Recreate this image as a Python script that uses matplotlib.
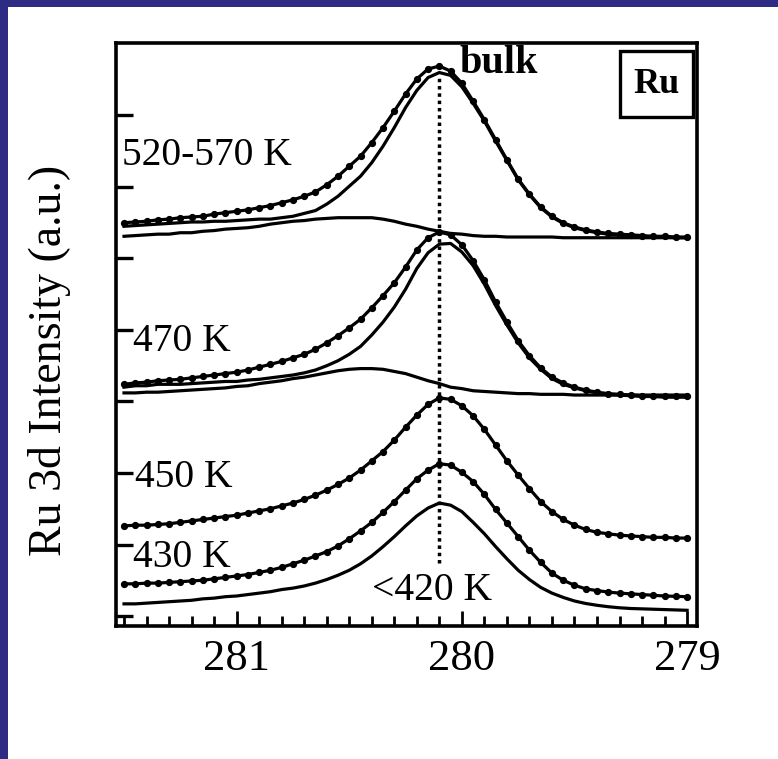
import matplotlib
matplotlib.use("Agg")
import matplotlib.pyplot as plt
from matplotlib.patches import Rectangle
from matplotlib.ticker import MultipleLocator

plt.rcParams['font.family'] = ['Liberation Serif', 'DejaVu Serif']

# Binding energy grid (eV), 0.05 eV steps
energy = [281.50, 281.45, 281.40, 281.35, 281.30, 281.25, 281.20, 281.15, 281.10, 281.05,
          281.00, 280.95, 280.90, 280.85, 280.80, 280.75, 280.70, 280.65, 280.60, 280.55,
          280.50, 280.45, 280.40, 280.35, 280.30, 280.25, 280.20, 280.15, 280.10, 280.05,
          280.00, 279.95, 279.90, 279.85, 279.80, 279.75, 279.70, 279.65, 279.60, 279.55,
          279.50, 279.45, 279.40, 279.35, 279.30, 279.25, 279.20, 279.15, 279.10, 279.05,
          279.00]

# Ru 3d spectra, offset vertically (a.u.)
ru_below_420 = [0.17, 0.17, 0.18, 0.19, 0.20, 0.21, 0.22, 0.24, 0.25, 0.27,
                0.28, 0.30, 0.32, 0.34, 0.37, 0.39, 0.42, 0.46, 0.51, 0.57,
                0.64, 0.73, 0.84, 0.97, 1.11, 1.26, 1.40, 1.51, 1.58, 1.55,
                1.46, 1.31, 1.15, 0.97, 0.80, 0.64, 0.51, 0.40, 0.32, 0.26,
                0.21, 0.175, 0.15, 0.13, 0.115, 0.105, 0.10, 0.095, 0.09, 0.085,
                0.08]

ru_430 = [0.45, 0.45, 0.46, 0.46, 0.47, 0.48, 0.49, 0.50, 0.52, 0.54,
          0.56, 0.58, 0.61, 0.64, 0.68, 0.73, 0.78, 0.84, 0.90, 0.98,
          1.08, 1.19, 1.31, 1.45, 1.60, 1.76, 1.92, 2.04, 2.13, 2.11,
          2.01, 1.88, 1.70, 1.49, 1.30, 1.11, 0.92, 0.75, 0.60, 0.50,
          0.43, 0.38, 0.355, 0.335, 0.32, 0.31, 0.30, 0.29, 0.28, 0.275,
          0.27]

ru_450 = [1.26, 1.27, 1.27, 1.28, 1.29, 1.31, 1.33, 1.35, 1.37, 1.39,
          1.41, 1.44, 1.47, 1.50, 1.54, 1.58, 1.63, 1.69, 1.76, 1.84,
          1.93, 2.04, 2.17, 2.30, 2.46, 2.64, 2.81, 2.96, 3.05, 3.03,
          2.94, 2.80, 2.61, 2.39, 2.17, 1.97, 1.78, 1.60, 1.46, 1.35,
          1.27, 1.21, 1.17, 1.15, 1.13, 1.12, 1.11, 1.10, 1.10, 1.09,
          1.09]

ru_470 = [3.24, 3.26, 3.27, 3.29, 3.30, 3.31, 3.33, 3.35, 3.37, 3.39,
          3.41, 3.44, 3.48, 3.52, 3.56, 3.61, 3.66, 3.73, 3.82, 3.92,
          4.03, 4.15, 4.31, 4.48, 4.66, 4.88, 5.12, 5.29, 5.37, 5.33,
          5.19, 4.97, 4.70, 4.39, 4.11, 3.85, 3.64, 3.47, 3.34, 3.26,
          3.20, 3.16, 3.13, 3.11, 3.10, 3.09, 3.08, 3.08, 3.07, 3.07,
          3.07]
bulk_470 = [3.20, 3.22, 3.22, 3.24, 3.24, 3.24, 3.25, 3.26, 3.27, 3.28,
            3.28, 3.30, 3.31, 3.33, 3.35, 3.37, 3.40, 3.44, 3.50, 3.57,
            3.66, 3.77, 3.93, 4.11, 4.32, 4.57, 4.86, 5.08, 5.20, 5.21,
            5.09, 4.90, 4.64, 4.34, 4.07, 3.82, 3.61, 3.45, 3.32, 3.24,
            3.19, 3.15, 3.12, 3.10, 3.09, 3.08, 3.07, 3.07, 3.06, 3.06,
            3.06]
surface_470 = [3.12, 3.12, 3.13, 3.13, 3.14, 3.15, 3.16, 3.17, 3.18, 3.19,
               3.21, 3.22, 3.25, 3.27, 3.29, 3.32, 3.34, 3.37, 3.40, 3.43,
               3.45, 3.46, 3.46, 3.45, 3.42, 3.39, 3.34, 3.29, 3.25, 3.20,
               3.18, 3.15, 3.14, 3.13, 3.12, 3.11, 3.11, 3.10, 3.10, 3.10,
               3.09, 3.09, 3.09, 3.09, 3.09, 3.09, 3.09, 3.09, 3.09, 3.09,
               3.09]

ru_520_570 = [5.50, 5.51, 5.52, 5.54, 5.55, 5.57, 5.58, 5.59, 5.62, 5.64,
              5.66, 5.68, 5.71, 5.74, 5.78, 5.82, 5.87, 5.93, 6.03, 6.15,
              6.29, 6.43, 6.62, 6.83, 7.06, 7.30, 7.51, 7.65, 7.69, 7.62,
              7.45, 7.20, 6.94, 6.66, 6.38, 6.11, 5.90, 5.72, 5.59, 5.50,
              5.44, 5.40, 5.37, 5.35, 5.34, 5.33, 5.32, 5.31, 5.31, 5.30,
              5.30]
bulk_520_570 = [5.45, 5.46, 5.47, 5.48, 5.49, 5.50, 5.51, 5.51, 5.52, 5.52,
                5.53, 5.54, 5.55, 5.55, 5.57, 5.59, 5.63, 5.67, 5.76, 5.87,
                6.01, 6.15, 6.34, 6.57, 6.83, 7.11, 7.35, 7.53, 7.60, 7.56,
                7.40, 7.17, 6.92, 6.64, 6.37, 6.10, 5.89, 5.71, 5.58, 5.49,
                5.43, 5.39, 5.36, 5.34, 5.33, 5.32, 5.31, 5.30, 5.30, 5.29,
                5.29]
surface_520_570 = [5.31, 5.32, 5.33, 5.34, 5.34, 5.36, 5.36, 5.38, 5.39, 5.41,
                   5.42, 5.43, 5.45, 5.48, 5.50, 5.52, 5.53, 5.55, 5.56, 5.57,
                   5.57, 5.57, 5.57, 5.55, 5.52, 5.48, 5.45, 5.41, 5.38, 5.35,
                   5.34, 5.32, 5.31, 5.31, 5.30, 5.30, 5.30, 5.30, 5.30, 5.29,
                   5.29, 5.29, 5.29, 5.29, 5.29, 5.29, 5.29, 5.29, 5.29, 5.29,
                   5.29]

bulk_position = 280.1

# Curve labels: text, x, y
labels = ["520-570 K", "470 K", "450 K", "430 K", "<420 K"]
label_x = [281.51, 281.46, 281.45, 281.46, 280.40]
label_y = [6.31, 3.71, 1.80, 0.685, 0.224]

fig = plt.figure(figsize=(7.78, 7.59), dpi=100)
fig.patch.set_facecolor('#2e2b85')
fig.add_artist(Rectangle((8 / 778, 0), 1, 1 - 7 / 759, transform=fig.transFigure,
                         facecolor='white', edgecolor='none', zorder=-1))

ax = fig.add_axes([0.1487, 0.1752, 0.8959 - 0.1487, 0.944 - 0.1752])
ax.set_facecolor('white')

lw = 2.3
dot = dict(marker='o', markersize=4.2, color='black', lw=lw)

ax.plot(energy, ru_below_420, color='black', lw=lw)
ax.plot(energy, ru_430, **dot)
ax.plot(energy, ru_450, **dot)

ax.plot(energy, bulk_470, color='black', lw=lw)
ax.plot(energy, surface_470, color='black', lw=lw)
ax.plot(energy, ru_470, **dot)

ax.plot(energy, bulk_520_570, color='black', lw=lw)
ax.plot(energy, surface_520_570, color='black', lw=lw)
ax.plot(energy, ru_520_570, **dot)

# bulk peak position
ax.plot([bulk_position, bulk_position], [0.74, 7.54], color='black',
        lw=2.5, linestyle=(0, (1, 1.1)))

for text, x, y in zip(labels, label_x, label_y):
    ax.text(x, y, text, fontsize=28.5, ha='left', va='baseline')

ax.text(280.01, 7.59, "bulk", fontsize=29, fontweight='bold', ha='left', va='baseline')

# element tag in the corner
ax.add_patch(Rectangle((0.8675, 0.8723), 0.1256, 0.1131, transform=ax.transAxes,
                       fill=False, edgecolor='black', lw=2.4))
ax.text(0.9303, 0.9288, "Ru", transform=ax.transAxes, fontsize=26, fontweight='bold',
        ha='center', va='center')

ax.set_xlim(281.537, 278.956)
ax.set_ylim(-0.14, 8.02)

ax.xaxis.set_major_locator(MultipleLocator(1))
ax.xaxis.set_minor_locator(MultipleLocator(0.1))
ax.set_yticks(range(0, 8))
ax.set_yticklabels([])

ax.tick_params(axis='x', which='major', direction='in', length=11, width=2.0,
               labelsize=32, pad=9, top=False)
ax.tick_params(axis='x', which='minor', direction='in', length=7, width=2.0, top=False)
ax.tick_params(axis='y', which='major', direction='in', length=12, width=2.4, right=False)
for s in ax.spines.values():
    s.set_linewidth(2.6)

fig.text(50 / 778, 1 - 360 / 759, "Ru 3d Intensity (a.u.)", rotation=90,
         fontsize=33, ha='center', va='center')

fig.savefig('out.png', dpi=100, facecolor=fig.get_facecolor())
